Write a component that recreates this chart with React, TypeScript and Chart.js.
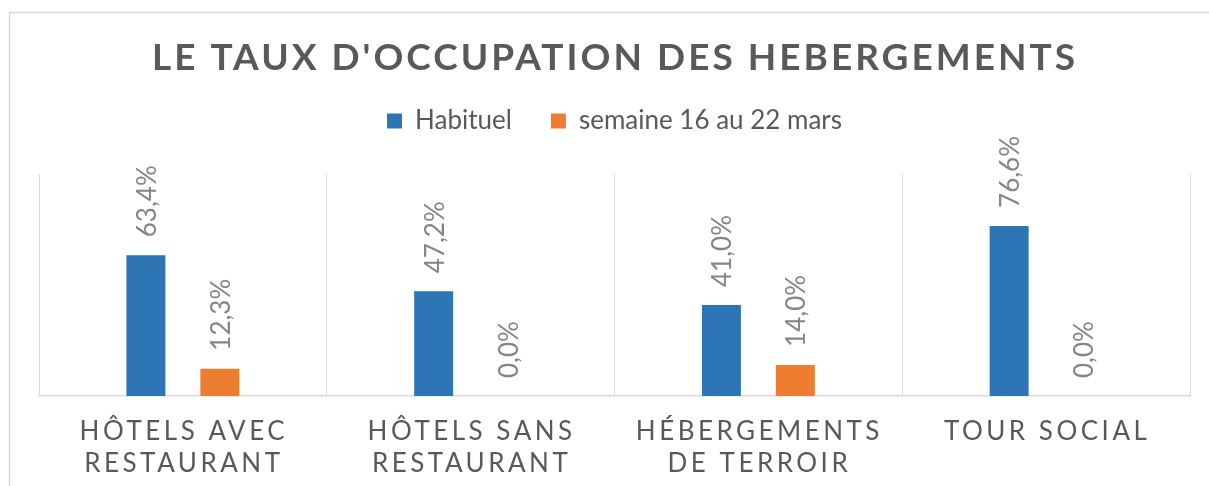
import React, { useEffect, useRef } from 'react';
import { Chart, registerables } from 'chart.js';

Chart.register(...registerables);

const chartTitle = "LE TAUX D'OCCUPATION DES HEBERGEMENTS";
const categories: string[][] = [
  ['HÔTELS AVEC', 'RESTAURANT'],
  ['HÔTELS SANS', 'RESTAURANT'],
  ['HÉBERGEMENTS', 'DE TERROIR'],
  ['TOUR SOCIAL'],
];
const seriesNames = ['Habituel', 'semaine 16 au 22 mars'];
const habituel = [63.4, 47.2, 41.0, 76.6];
const semaine = [12.3, 0.0, 14.0, 0.0];
const seriesColors = ['#2E75B6', '#ED7D31'];

const fmt = (v: number) => v.toFixed(1).replace('.', ',') + '%';

const decorPlugin = {
  id: 'decor',
  beforeDraw(chart: any) {
    const ctx = chart.ctx;
    ctx.save();
    ctx.strokeStyle = '#d9d9d9';
    ctx.lineWidth = 1.5;
    ctx.strokeRect(9.5, 12.5, 1400, 700);
    ctx.restore();
  },
  afterDraw(chart: any) {
    const ctx = chart.ctx;
    // Title
    ctx.save();
    ctx.font = 'bold 37px Lato';
    ctx.fillStyle = '#595959';
    (ctx as any).letterSpacing = '0px';
    const w0 = ctx.measureText(chartTitle).width;
    const targetW = 923;
    const sp = Math.max(0, (targetW - w0) / (chartTitle.length - 1));
    (ctx as any).letterSpacing = sp + 'px';
    ctx.textAlign = 'left';
    ctx.textBaseline = 'alphabetic';
    ctx.fillText(chartTitle, 613.5 - targetW / 2, 70);
    ctx.restore();

    // Category labels
    const xs = chart.scales.x;
    ctx.save();
    ctx.font = '26px Lato';
    ctx.fillStyle = '#595959';
    (ctx as any).letterSpacing = '3.5px';
    ctx.textAlign = 'center';
    ctx.textBaseline = 'alphabetic';
    categories.forEach((lines, i) => {
      const cx = xs.getPixelForValue(i) + 1;
      lines.forEach((ln, j) => {
        ctx.fillText(ln, cx, 440 + j * 31.7);
      });
    });
    ctx.restore();
  },
  afterDatasetsDraw(chart: any) {
    const ctx = chart.ctx;
    ctx.save();
    ctx.font = '26px Lato';
    ctx.fillStyle = '#858585';
    ctx.textAlign = 'left';
    ctx.textBaseline = 'alphabetic';
    chart.data.datasets.forEach((ds: any, di: number) => {
      const meta = chart.getDatasetMeta(di);
      meta.data.forEach((el: any, i: number) => {
        ctx.save();
        ctx.translate(el.x + 10, el.y - 18);
        ctx.rotate(-Math.PI / 2);
        ctx.fillText(fmt(ds.data[i]), 0, 0);
        ctx.restore();
      });
    });
    ctx.restore();
  },
};

export default function App() {
  const ref = useRef<HTMLCanvasElement>(null);
  useEffect(() => {
    if (!ref.current) return;
    const chart = new Chart(ref.current, {
      type: 'bar',
      data: {
        labels: categories,
        datasets: [
          {
            label: seriesNames[0],
            data: habituel,
            backgroundColor: seriesColors[0],
            borderWidth: 0,
            xAxisID: 'x',
            yAxisID: 'y',
          },
          {
            label: seriesNames[1],
            data: semaine,
            backgroundColor: seriesColors[1],
            borderWidth: 0,
            xAxisID: 'x',
            yAxisID: 'y',
          },
        ],
      },
      options: {
        responsive: false,
        animation: false,
        devicePixelRatio: 1,
        datasets: { bar: { categoryPercentage: 0.514, barPercentage: 0.527 } },
        layout: { padding: { top: 69, left: 39, right: 19, bottom: 0 } },
        plugins: {
          title: { display: false },
          tooltip: { enabled: false },
          legend: {
            display: true,
            position: 'top',
            labels: {
              font: { family: 'Lato', size: 26 },
              color: '#595959',
              boxWidth: 15,
              boxHeight: 15,
              padding: 39,
            },
          },
        },
        scales: {
          x: {
            type: 'category',
            position: 'bottom',
            offset: true,
            grid: { offset: true, color: '#d9d9d9', lineWidth: 1, drawTicks: false },
            border: { color: '#d9d9d9', width: 1.5 },
            ticks: { display: false },
            afterFit: (s: any) => {
              s.height = 90;
            },
          },
          xTop: {
            type: 'category',
            position: 'top',
            display: true,
            grid: { display: false, drawTicks: false },
            border: { display: false },
            ticks: { display: false },
            afterFit: (s: any) => {
              s.height = 30;
            },
          },
          y: {
            display: false,
            min: 0,
            max: 100,
          },
        },
      } as any,
      plugins: [decorPlugin],
    });
    return () => chart.destroy();
  }, []);
  return (
    <div style={{ position: 'fixed', left: 0, top: 0, width: 1209, height: 486, background: '#fff' }}>
      <canvas ref={ref} width={1209} height={486} />
    </div>
  );
}
